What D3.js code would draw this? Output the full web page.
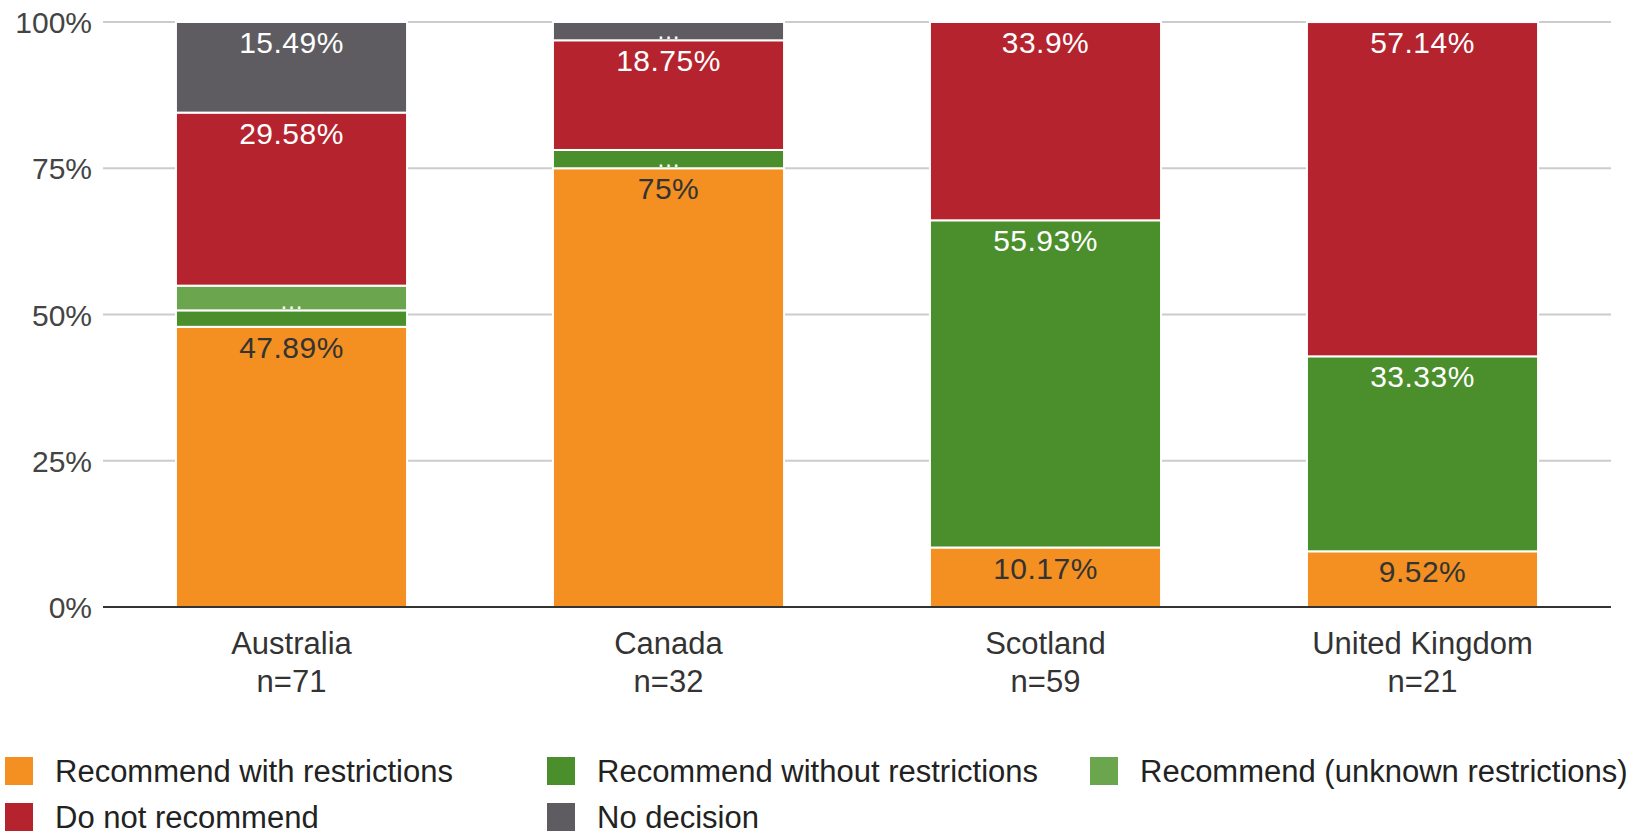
<!DOCTYPE html>
<html>
<head>
<meta charset="utf-8">
<script src="https://cdn.jsdelivr.net/npm/d3@7"></script>
<style>
    body { margin: 0; background: #fff; }
    svg { display: block; font-family: "Liberation Sans", Arial, sans-serif; }
</style>
</head>
<body>
<div id="chart"></div>
<script>
const countries = ['Australia', 'Canada', 'Scotland', 'United Kingdom'];
const sampleSizes = [71, 32, 59, 21];

const seriesNames = [
    'Recommend with restrictions',
    'Recommend without restrictions',
    'Recommend (unknown restrictions)',
    'Do not recommend',
    'No decision'
];
const seriesColors = ['#f39021', '#4b8e2c', '#6ba54e', '#b5232f', '#5e5c60'];
const labelColors = ['#333333', '#ffffff', '#ffffff', '#ffffff', '#ffffff'];

// percent of decisions per country, same order as countries
const withRestrictions = [47.89, 75, 10.17, 9.52];
const withoutRestrictions = [2.817, 3.125, 55.93, 33.33];
const unknownRestrictions = [4.225, 0, 0, 0];
const doNotRecommend = [29.58, 18.75, 33.9, 57.14];
const noDecision = [15.49, 3.125, 0, 0];

const seriesValues = [withRestrictions, withoutRestrictions, unknownRestrictions, doNotRecommend, noDecision];
const yTicks = [0, 25, 50, 75, 100];

const width = 1635, height = 834;
const plotLeft = 103, plotRight = 1611, plotTop = 22, plotBottom = 607;

const svg = d3.select('#chart').append('svg')
    .attr('width', width)
    .attr('height', height);

const x = d3.scaleBand()
    .domain(countries)
    .range([plotLeft, plotRight]);

const barWidth = x.bandwidth() * 0.613;

const y = d3.scaleLinear()
    .domain([0, 100])
    .range([plotBottom, plotTop]);

// gridlines + tick labels
const grid = svg.append('g');
grid.selectAll('line')
    .data(yTicks.filter(t => t > 0))
    .enter().append('line')
    .attr('x1', plotLeft).attr('x2', plotRight)
    .attr('y1', d => y(d)).attr('y2', d => y(d))
    .attr('stroke', '#cccccc')
    .attr('stroke-width', 2);

grid.selectAll('text')
    .data(yTicks)
    .enter().append('text')
    .attr('x', 92)
    .attr('y', d => y(d) + 11)
    .attr('text-anchor', 'end')
    .attr('font-size', 30)
    .attr('fill', '#444444')
    .text(d => d + '%');

// stacked segments
const rows = countries.map((c, i) => {
    const row = { country: c };
    seriesNames.forEach((s, j) => { row[s] = seriesValues[j][i]; });
    return row;
});

const stacked = d3.stack().keys(seriesNames)(rows);

const layers = svg.append('g').selectAll('g')
    .data(stacked)
    .enter().append('g')
    .attr('fill', (d, i) => seriesColors[i]);

layers.selectAll('rect')
    .data(d => d.filter(p => p[1] - p[0] > 0))
    .enter().append('rect')
    .attr('x', d => x(d.data.country) + (x.bandwidth() - barWidth) / 2)
    .attr('y', d => y(d[1]))
    .attr('width', barWidth)
    .attr('height', d => y(d[0]) - y(d[1]))
    .attr('stroke', '#ffffff')
    .attr('stroke-width', 2);

function fmt(v) {
    return (Math.round(v * 100) / 100) + '%';
}

stacked.forEach((layer, i) => {
    svg.append('g').selectAll('text')
        .data(layer.filter(p => p[1] - p[0] >= 3))
        .enter().append('text')
        .attr('x', d => x(d.data.country) + x.bandwidth() / 2)
        .attr('y', d => {
            const v = d[1] - d[0];
            return v < 5 ? y(d[0]) - 1 : y(d[1]) + 31;
        })
        .attr('text-anchor', 'middle')
        .attr('font-size', d => (d[1] - d[0]) < 5 ? 24 : 30)
        .attr('letter-spacing', d => (d[1] - d[0]) < 5 ? 0 : 0.5)
        .attr('fill', labelColors[i])
        .text(d => (d[1] - d[0]) < 5 ? '\u2026' : fmt(d[1] - d[0]));
});

// baseline
svg.append('line')
    .attr('x1', plotLeft).attr('x2', plotRight)
    .attr('y1', y(0)).attr('y2', y(0))
    .attr('stroke', '#333333')
    .attr('stroke-width', 2);

// category labels
const cats = svg.append('g');
countries.forEach((c, i) => {
    const cx = x(c) + x.bandwidth() / 2;
    const t = cats.append('text')
        .attr('text-anchor', 'middle')
        .attr('font-size', 31)
        .attr('fill', '#333333');
    t.append('tspan').attr('x', cx).attr('y', 654).text(c);
    t.append('tspan').attr('x', cx).attr('y', 692).text('n=' + sampleSizes[i]);
});

// legend
const legendCols = [5, 547, 1090];
const legend = svg.append('g');
seriesNames.forEach((s, i) => {
    const lx = legendCols[i % 3];
    const ly = 757 + Math.floor(i / 3) * 46;
    legend.append('rect')
        .attr('x', lx).attr('y', ly)
        .attr('width', 28).attr('height', 28)
        .attr('fill', seriesColors[i]);
    legend.append('text')
        .attr('x', lx + 50)
        .attr('y', ly + 25)
        .attr('font-size', 31)
        .attr('fill', '#222222')
        .text(s);
});
</script>
</body>
</html>
